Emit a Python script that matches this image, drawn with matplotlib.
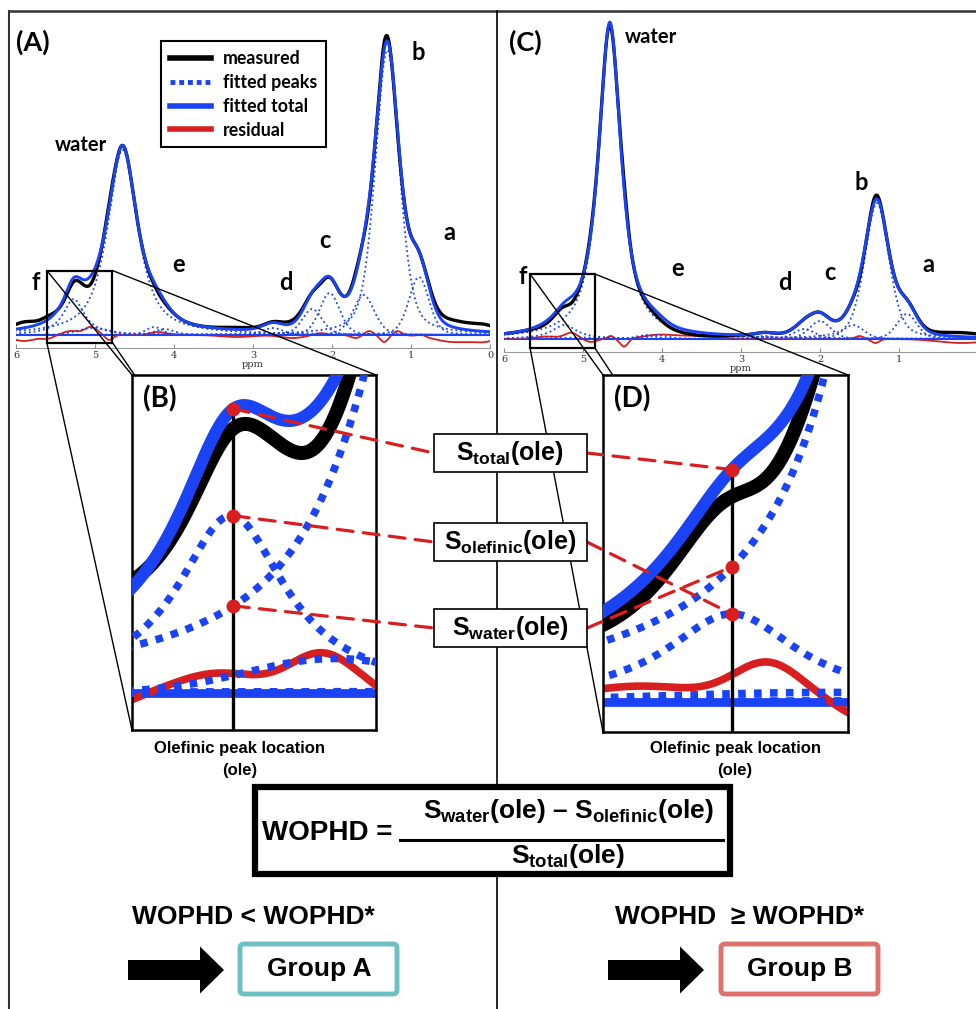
import numpy as np
import matplotlib.pyplot as plt
from matplotlib.patches import Rectangle, ConnectionPatch, FancyArrow, FancyBboxPatch
from matplotlib.lines import Line2D

plt.rcParams["mathtext.fontset"] = "custom"
plt.rcParams["mathtext.it"] = "Liberation Sans:bold"
plt.rcParams["mathtext.rm"] = "Liberation Sans:bold"
plt.rcParams["mathtext.bf"] = "Liberation Sans:bold"

W, H = 976, 1009
BLUE = "#1a43f5"
RED = "#d81e1e"
TEAL = "#6cbfc4"
SALMON = "#de716c"

# ---- group A spectrum: fitted peaks (ppm, height, fwhm, lorentz fraction)
a_center = [5.27, 5.02, 4.65, 4.25, 4.12, 2.75, 2.25, 2.03, 1.60, 1.30, 0.90]
a_height = [36, 7, 185, 8, 6, 7, 26, 42, 40, 285, 58]
a_fwhm = [0.32, 0.50, 0.45, 0.25, 0.30, 0.30, 0.30, 0.30, 0.32, 0.36, 0.30]
a_eta = [1.0, 0.0, 0.8, 0.3, 0.3, 0.3, 0.3, 0.3, 0.3, 0.4, 0.3]
# residual (fit - measured) bumps: ppm, amplitude, width
a_res_center = [5.90, 5.60, 5.30, 5.05, 4.82, 4.20, 3.20, 2.50, 2.15, 1.70, 1.53, 1.34, 1.17, 0.87, 0.45, 0.05]
a_res_amp = [-6, -3, 4, 8, -5, 3, -2, -3, 2, -3, 4, -7, 4, 2, -7, -5]
a_res_sig = [0.15, 0.08, 0.10, 0.08, 0.05, 0.10, 0.20, 0.15, 0.08, 0.06, 0.05, 0.05, 0.05, 0.05, 0.25, 0.15]
a_ole = 5.265
a_labels = ["water", "f", "e", "d", "c", "b", "a"]
a_label_pos = [(5.18, 190), (5.75, 52), (3.94, 71), (2.58, 53), (2.09, 95), (0.91, 283), (0.51, 103)]

# ---- group B spectrum
c_center = [5.235, 5.00, 4.66, 4.20, 4.05, 2.70, 2.20, 2.00, 1.58, 1.28, 0.90]
c_height = [14, 1.5, 314, 4, 4, 3, 10, 18, 14, 136, 25]
c_fwhm = [0.38, 1.00, 0.34, 0.30, 0.30, 0.30, 0.32, 0.32, 0.32, 0.36, 0.30]
c_eta = [1.0, 0.0, 0.85, 0.3, 0.3, 0.3, 0.3, 0.3, 0.3, 0.4, 0.3]
c_res_center = [5.45, 5.15, 4.90, 4.65, 4.48, 4.05, 3.55, 1.50, 1.30, 0.20]
c_res_amp = [2.5, 6, -3, 3, -8, 4, 3, 3, -4, -4]
c_res_sig = [0.15, 0.08, 0.07, 0.04, 0.05, 0.20, 0.25, 0.05, 0.05, 0.30]
c_ole = 5.235
c_labels = ["water", "f", "e", "d", "c", "b", "a"]
c_label_pos = [(4.14, 302), (5.76, 62), (3.80, 70), (2.44, 57), (1.87, 67), (1.48, 156), (0.63, 74)]

ppm = np.linspace(6.2, -0.2, 2000)


def peak(x, c, h, w, eta):
    lor = 1.0 / (1.0 + ((x - c) / (w / 2)) ** 2)
    gau = np.exp(-4 * np.log(2) * ((x - c) / w) ** 2)
    return h * (eta * lor + (1 - eta) * gau)


def build(centers, heights, fwhms, etas, rc, ra, rs, x):
    peaks = [peak(x, c, h, w, e) for c, h, w, e in zip(centers, heights, fwhms, etas)]
    total = np.sum(peaks, axis=0)
    res = np.zeros_like(x)
    for c, a, s in zip(rc, ra, rs):
        res += a * np.exp(-0.5 * ((x - c) / s) ** 2)
    return peaks, total, total - res, res


def draw_spectrum(ax, peaks, total, meas, res, scale):
    lw = scale
    ax.axhline(0, color=BLUE, lw=1.5 * lw, zorder=1)
    ax.plot(ppm, res, color=RED, lw=1.3 * lw, zorder=2)
    for p in peaks:
        if lw > 1:
            ax.plot(ppm, p, color=BLUE, lw=1.3 * lw, ls=(0, (1, 1.1)), zorder=3)
        else:
            ax.plot(ppm, p, color=BLUE, lw=1.3, ls=":", zorder=3)
    ax.plot(ppm, meas, color="black", lw=2.4 * lw, zorder=4)
    ax.plot(ppm, total, color=BLUE, lw=2.1 * lw, zorder=5)


fig = plt.figure(figsize=(W / 100, H / 100), dpi=100)

bg = fig.add_axes([0, 0, 1, 1], zorder=-5)
bg.set_xlim(0, W)
bg.set_ylim(H, 0)
bg.axis("off")
bg.plot([9, W], [11, 11], color="#333333", lw=1.8)
bg.plot([9, 9], [11, H], color="#333333", lw=1.5)
bg.plot([497, 497], [11, H], color="black", lw=1.2)


def main_axes(rect, ylim, ticks, centers, heights, fwhms, etas, rc, ra, rs, labels, label_pos):
    ax = fig.add_axes(rect, zorder=1)
    ax.patch.set_alpha(0)
    ax.set_xlim(6, 0)
    ax.set_ylim(*ylim)
    for s in ["top", "left", "right"]:
        ax.spines[s].set_visible(False)
    ax.spines["bottom"].set_color("#999999")
    ax.spines["bottom"].set_linewidth(0.8)
    ax.set_yticks([])
    ax.set_xticks(ticks)
    ax.tick_params(axis="x", direction="in", length=3, color="#888888", pad=2,
                   labelsize=7, labelcolor="#333333")
    for t in ax.get_xticklabels():
        t.set_family("DejaVu Serif")
    ax.set_xlabel("ppm", family="DejaVu Serif", fontsize=7, color="#333333", labelpad=0)
    peaks, total, meas, res = build(centers, heights, fwhms, etas, rc, ra, rs, ppm)
    draw_spectrum(ax, peaks, total, meas, res, 1)
    for lab, (x, y) in zip(labels, label_pos):
        ax.text(x, y, lab, family="Lato", fontweight="bold", fontsize=17 if lab != "water" else 14.5,
                ha="center", va="center")
    return ax, peaks, total, meas, res


def zoom_axes(rect, xlim, ylim, peaks_data, ole, tag):
    peaks, total, meas, res = peaks_data
    ax = fig.add_axes(rect, zorder=3)
    ax.set_facecolor("white")
    ax.set_xlim(*xlim)
    ax.set_ylim(*ylim)
    ax.set_xticks([])
    ax.set_yticks([])
    for s in ax.spines.values():
        s.set_linewidth(1.8)
    draw_spectrum(ax, peaks, total, meas, res, 4.2)
    t_ole = np.interp(ole, ppm[::-1], total[::-1])
    o_ole = np.interp(ole, ppm[::-1], peaks[0][::-1])
    w_ole = np.interp(ole, ppm[::-1], peaks[2][::-1])
    ax.plot([ole, ole], [ylim[0], t_ole], color="black", lw=2.4, zorder=6)
    ax.plot([ole] * 3, [t_ole, o_ole, w_ole], "o", color=RED, ms=9, zorder=7, clip_on=False)
    ax.text(0.045, 0.97, tag, transform=ax.transAxes, family="Lato", fontweight="bold",
            fontsize=20, ha="left", va="top")
    return ax, {"total": t_ole, "olefinic": o_ole, "water": w_ole}


# ---- panel A / B
axA, pA, tA, mA, rA = main_axes([16 / W, (H - 348) / H, 474 / W, 328 / H], (-13, 315),
                                [6, 5, 4, 3, 2, 1, 0],
                                a_center, a_height, a_fwhm, a_eta,
                                a_res_center, a_res_amp, a_res_sig, a_labels, a_label_pos)
handles = [Line2D([], [], color="black", lw=4),
           Line2D([], [], color=BLUE, lw=3.5, ls=(0, (1, 0.8))),
           Line2D([], [], color=BLUE, lw=4),
           Line2D([], [], color=RED, lw=4)]
leg = axA.legend(handles, ["measured", "fitted peaks", "fitted total", "residual"],
                 loc="upper left", bbox_to_anchor=(0.287, 0.962), fancybox=False,
                 edgecolor="black", framealpha=1, borderpad=0.5, labelspacing=0.38,
                 handlelength=2.3, handletextpad=0.7,
                 prop={"family": "Lato", "weight": "bold", "size": 12.8})
leg.get_frame().set_linewidth(1.5)

bx = (5.61, 4.78)
by = (-7.5, 64.5)
axA.add_patch(Rectangle((bx[1], by[0]), bx[0] - bx[1], by[1] - by[0], fill=False,
                        ec="black", lw=1.6, zorder=6))
axB, dotsB = zoom_axes([132 / W, (H - 730) / H, 244 / W, 355 / H], (5.51, 4.92), by,
                       (pA, tA, mA, rA), a_ole, "(B)")

# ---- panel C / D
axC, pC, tC, mC, rC = main_axes([504 / W, (H - 352) / H, 474 / W, 337 / H], (-13, 324),
                                [6, 5, 4, 3, 2, 1],
                                c_center, c_height, c_fwhm, c_eta,
                                c_res_center, c_res_amp, c_res_sig, c_labels, c_label_pos)
cx = (5.67, 4.85)
cy = (-9, 65)
axC.add_patch(Rectangle((cx[1], cy[0]), cx[0] - cx[1], cy[1] - cy[0], fill=False,
                        ec="black", lw=1.6, zorder=6))
axD, dotsD = zoom_axes([603 / W, (H - 732) / H, 245 / W, 357 / H], (5.54, 4.96), (-4.8, 52),
                       (pC, tC, mC, rC), c_ole, "(D)")

# zoom connector lines
for src, (xs, ys), dst in [(axA, (bx, by), axB), (axC, (cx, cy), axD)]:
    corners = [((xs[0], ys[1]), (0, 1)), ((xs[1], ys[1]), (1, 1)),
               ((xs[0], ys[0]), (0, 0)), ((xs[1], ys[0]), (1, 0))]
    for pa, pb in corners:
        con = ConnectionPatch(xyA=pa, coordsA=src.transData, xyB=pb, coordsB=dst.transAxes,
                              color="black", lw=1.0)
        fig.add_artist(con)
        con.set_zorder(2)

# overlay for labels, boxes, formula
ov = fig.add_axes([0, 0, 1, 1], zorder=10)
ov.set_xlim(0, W)
ov.set_ylim(H, 0)
ov.axis("off")
ov.patch.set_alpha(0)

ov.text(16, 42, "(A)", family="Lato", fontweight="bold", fontsize=19.5, ha="left", va="center")
ov.text(509, 42, "(C)", family="Lato", fontweight="bold", fontsize=19.5, ha="left", va="center")

box_keys = ["total", "olefinic", "water"]
box_text = [r"$S_{total}$(ole)", r"$S_{olefinic}$(ole)", r"$S_{water}$(ole)"]
box_yc = [453, 542, 628]
for key, txt, yc in zip(box_keys, box_text, box_yc):
    ov.add_patch(Rectangle((434, yc - 19), 153, 38, fc="white", ec="black", lw=1.2, zorder=5))
    ov.text(510, yc, txt, family="Liberation Sans", fontweight="bold", fontsize=18,
            ha="center", va="center", zorder=6)
    c1 = ConnectionPatch(xyA=(a_ole, dotsB[key]), coordsA=axB.transData,
                         xyB=(434, yc), coordsB=ov.transData, color=RED, lw=2.3,
                         ls=(0, (5, 3.2)))
    fig.add_artist(c1)
    c1.set_zorder(4)
    c2 = ConnectionPatch(xyA=(587, yc), coordsA=ov.transData,
                         xyB=(c_ole, dotsD[key]), coordsB=axD.transData,
                         color=RED, lw=2.3, ls=(0, (5, 3.2)))
    fig.add_artist(c2)
    c2.set_zorder(4)

for xc in [240, 735]:
    ov.text(xc, 748, "Olefinic peak location", family="Liberation Sans", fontweight="bold",
            fontsize=12, ha="center", va="center")
    ov.text(xc, 770, "(ole)", family="Liberation Sans", fontweight="bold",
            fontsize=12, ha="center", va="center")

# formula
ov.add_patch(Rectangle((255, 787), 475, 87, fc="white", ec="black", lw=4.5, zorder=5))
ov.text(262, 833, "WOPHD =", family="Liberation Sans", fontweight="bold", fontsize=20,
        ha="left", va="center", zorder=6)
ov.plot([400, 723], [840, 840], color="black", lw=2.2, zorder=6)
ov.text(568, 811, r"$S_{water}$(ole) – $S_{olefinic}$(ole)", family="Liberation Sans",
        fontweight="bold", fontsize=19, ha="center", va="center", zorder=6)
ov.text(568, 856, r"$S_{total}$(ole)", family="Liberation Sans",
        fontweight="bold", fontsize=19, ha="center", va="center", zorder=6)

# decision rules
ov.text(253, 917, "WOPHD < WOPHD*", family="Liberation Sans", fontweight="bold",
        fontsize=19, ha="center", va="center")
ov.text(740, 917, "WOPHD  ≥ WOPHD*", family=["Liberation Sans", "DejaVu Sans"],
        fontweight="bold", fontsize=19, ha="center", va="center")
for x0, gx, col, lab in [(128, 240, TEAL, "Group A"), (608, 721, SALMON, "Group B")]:
    ov.add_patch(FancyArrow(x0, 970, 96, 0, width=20, head_width=47, head_length=24,
                            length_includes_head=True, color="black", lw=0))
    ov.add_patch(FancyBboxPatch((gx, 944), 157, 50, boxstyle="round,pad=0,rounding_size=4",
                                fc="white", ec=col, lw=3.5))
    ov.text(gx + 79, 969, lab, family="Liberation Sans", fontweight="bold", fontsize=19,
            ha="center", va="center")

fig.savefig("out.png", dpi=100)
